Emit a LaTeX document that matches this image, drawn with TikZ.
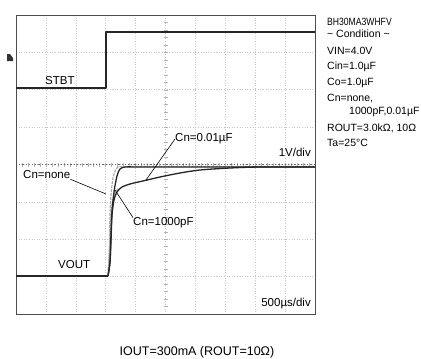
\documentclass[tikz,border=0pt]{standalone}
\usepackage{fontspec}
\setmainfont{Liberation Sans}
\begin{document}
\begin{tikzpicture}[x=1pt,y=-1pt]
		\begin{scope}
		
		\tikzstyle{gridline}=[gray!45,
		dotted,
		line width=0.6pt
		]
		\tikzstyle{tick}=[gray!60,
		line width=0.5pt
		]
		\tikzstyle{trace}=[black!85,
		line width=1.3pt,
		line join=round
		]
		\tikzstyle{tracegray}=[gray!65,
		line width=1.2pt,
		dash pattern=on 3pt off 1pt
		]
		\tikzstyle{lbl}=[inner sep=0pt,
		anchor=west,
		font=\fontsize{11.5}{13}\selectfont
		]
		\tikzstyle{cond}=[inner sep=0pt,
		anchor=west,
		font=\fontsize{10.5}{12}\selectfont
		]
		\tikzstyle{leader}=[black,
		line width=0.6pt
		]
		
		\useasboundingbox (0,0) rectangle (421,359);
		\fill[white] (0,0) rectangle (421,359);
		
		% screen grid
		\foreach \i in {1,...,9} \draw[gridline] (16+29.9*\i,15) -- (16+29.9*\i,314);
		\foreach \j in {1,...,7} \draw[gridline] (16,15+37.375*\j) -- (315,15+37.375*\j);
		\foreach \i in {1,...,49} \draw[tick] (16+5.98*\i,162.6) -- (16+5.98*\i,166.6);
		\foreach \j in {1,...,39} \draw[tick] (163.5,15+7.475*\j) -- (167.5,15+7.475*\j);
		\draw[black!60, line width=1.2pt, dotted] (16,164.6) -- (315,164.6);
		
		% frame
		\draw[black!70, line width=1pt] (16,15) rectangle (315,314);
		
		% channel marker
		\fill[black!80] (7,54) -- (10,54) -- (13,58) -- (13,61) -- (7,61) -- cycle;
		
		% STBT
		\draw[trace] (16,88) -- (106,88) -- (106,32) -- (315,32);
		
		% VOUT
		\draw[trace] (16,276) -- (108,276);
		\draw[tracegray] plot[smooth] coordinates {(108,276) (109,262) (109.5,240) (110,215) (111,195) (113,178) (116,169) (120,166.5) (130,166.5)} -- (315,166.5);
		\draw[tracegray] plot[smooth] coordinates {(108,274) (109.5,250) (110.5,222) (112,205) (115,193) (119,188)};
		\draw[trace] plot[smooth] coordinates {(108,276) (110,262) (111,235) (112,212) (114,192) (117,176) (120,169) (125,167) (135,167)} -- (315,167);
		\draw[trace] plot[smooth] coordinates {(108,276) (110,262) (111,240) (112,215) (114,200) (117,192) (122,187) (130,184) (145,180.5) (160,177) (180,173) (200,170) (230,168) (260,167) (315,167)};
		
		\coordinate (pnone) at (106,194);
		\coordinate (p1000) at (115,190);
		\coordinate (p001) at (146,180);
		
		\node[lbl] (stbt) at (45,81) {STBT};
		\node[lbl] (vout) at (58,265) {VOUT};
		\node[lbl] (cnnone) at (23,175) {Cn=none};
		\node[lbl] (cn1000) at (133,223) {Cn=1000pF};
		\node[lbl] (cn001) at (175,139) {Cn=0.01µF};
		\node[lbl, anchor=east] (vdiv) at (311,152) {1V/div};
		\node[lbl, anchor=east] (tdiv) at (311,304) {500µs/div};
		
		\draw[leader] (cnnone.south east) -- (pnone);
		\draw[leader] (cn1000.north west) -- (p1000);
		\draw[leader] (cn001.west) -- (p001);
		
		% conditions
		\node[cond, xscale=0.82, transform shape] (c1) at (327,22) {BH30MA3WHFV};
		\node[cond] (c2) at (327,34) {\textasciitilde{} Condition \textasciitilde};
		\node[cond] (c3) at (327,51) {VIN=4.0V};
		\node[cond] (c4) at (327,67) {Cin=1.0µF};
		\node[cond] (c5) at (327,83) {Co=1.0µF};
		\node[cond] (c6) at (327,99) {Cn=none,};
		\node[cond] (c7) at (349,112) {1000pF,0.01µF};
		\node[cond] (c8) at (327,128) {ROUT=3.0kΩ, 10Ω};
		\node[cond] (c9) at (327,143) {Ta=25°C};
		
		\node[inner sep=0pt, font=\fontsize{12.5}{14}\selectfont] (caption) at (197,352) {IOUT=300mA (ROUT=10Ω)};
		
		\end{scope}
\end{tikzpicture}
\end{document}
